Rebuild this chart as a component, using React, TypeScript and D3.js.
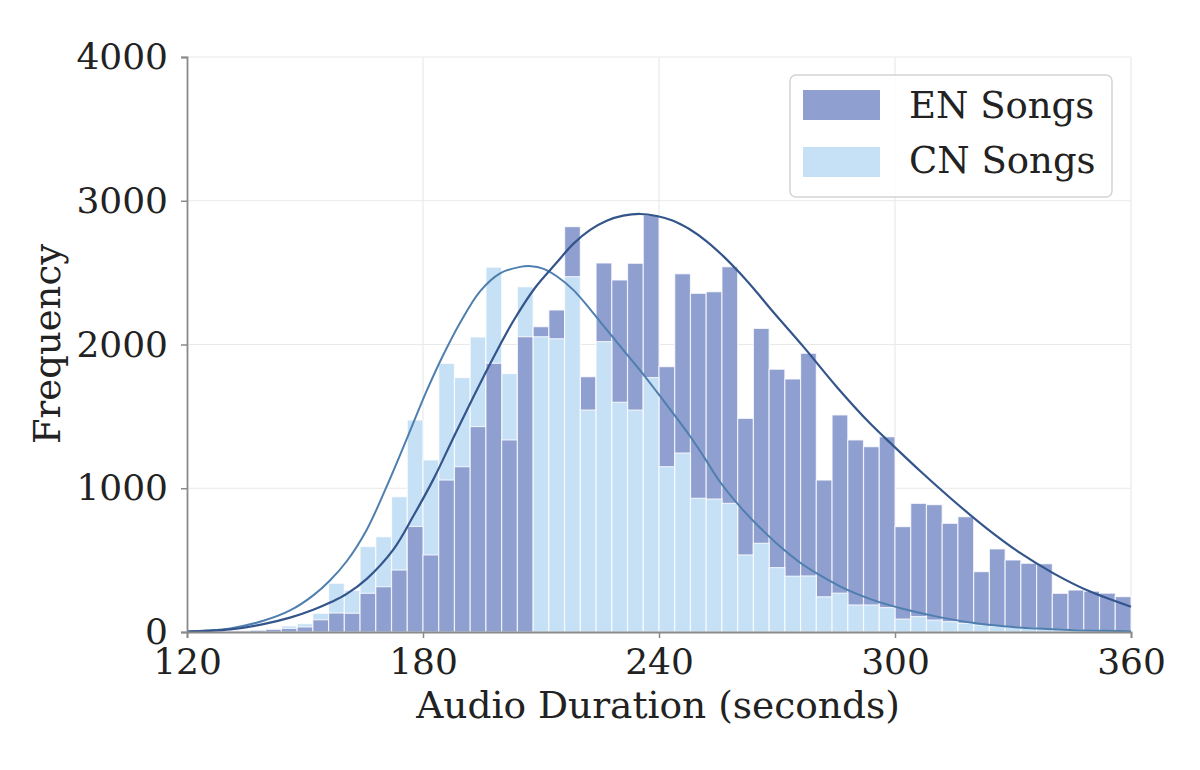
import React, {useRef, useEffect} from 'react';
import * as d3 from 'd3';

// histogram bins: 4-second bins from 120 s to 360 s
const binWidth = 4;
const binStarts = d3.range(120, 360, binWidth);

const enCounts = [
    2, 3, 5, 8, 12, 18, 25, 35, 85, 132,
    130, 269, 315, 431, 734, 536, 1057, 1150, 1429, 1869,
    1336, 2054, 2124, 2240, 2820, 1776, 2567, 2449, 2565, 2901,
    1846, 2492, 2356, 2367, 2541, 1486, 2112, 1828, 1760, 1939,
    1057, 1510, 1336, 1289, 1358, 733, 895, 886, 756, 802,
    420, 578, 501, 478, 475, 269, 292, 284, 270, 246,
];

const cnCounts = [
    3, 5, 8, 10, 15, 25, 42, 58, 130, 339,
    290, 594, 663, 941, 1475, 1197, 1869, 1770, 2052, 2538,
    1798, 2402, 2054, 2040, 2472, 1544, 2020, 1598, 1544, 1770,
    1150, 1245, 930, 925, 895, 536, 617, 448, 388, 390,
    245, 270, 188, 188, 170, 90, 107, 83, 72, 60,
    49, 40, 33, 28, 22, 18, 14, 11, 9, 6,
];

// fitted density curves as [seconds, frequency]
const enCurve: [number, number][] = [
    [120, 3], [125, 8], [131, 18], [139.4, 55], [146.2, 100], [152.1, 155],
    [156.8, 210], [160.6, 265], [165.7, 370], [172.5, 575], [177.5, 805],
    [182.6, 1060], [187.7, 1350], [192.8, 1635], [197.9, 1910], [203, 2165],
    [208.5, 2395], [214, 2570], [218.2, 2700], [222.5, 2797], [226.7, 2861],
    [230.9, 2896], [235.2, 2908], [239.4, 2894], [243.6, 2861], [247.9, 2800],
    [252.1, 2718], [256.4, 2613], [260.6, 2495], [264.8, 2365], [268.6, 2240],
    [276.7, 1985], [285.2, 1705], [293.7, 1450], [299.6, 1295], [306.4, 1120],
    [314.8, 915], [323.3, 721], [331.8, 550], [340.3, 408], [348.7, 292], [360, 176],
];

const cnCurve: [number, number][] = [
    [120, 4], [125, 10], [131, 25], [139.4, 78], [146.2, 150], [152.1, 255],
    [156.4, 360], [160.6, 492], [165.7, 712], [170.8, 1015], [175.9, 1345],
    [180.9, 1675], [185.2, 1930], [189.4, 2150], [194.5, 2370], [199.6, 2495],
    [204.7, 2540], [207.5, 2545], [210.5, 2528], [214, 2475], [218.2, 2380],
    [222.5, 2245], [226.7, 2103], [230.9, 1962], [235.2, 1820], [239.4, 1672],
    [243.6, 1521], [247.9, 1362], [251.5, 1215], [255.5, 1045], [260.6, 872],
    [265.7, 725], [270.8, 594], [275.9, 482], [280.9, 395], [286, 318],
    [291.1, 257], [296, 208], [302.2, 160], [310.7, 107], [319.2, 66],
    [327.6, 40], [336.1, 24], [344.6, 14], [360, 6],
];

const xTicks = [120, 180, 240, 300, 360];
const yTicks = [0, 1000, 2000, 3000, 4000];
const seriesNames = ['EN Songs', 'CN Songs'];

const W = 1200;
const H = 770;
const FONT = '"DejaVu Serif", serif';

const enBar = '#8e9fd0';
const cnBar = '#c6e0f5';
const enLine = '#34558b';
const cnLine = '#4f7fae';

const App: React.FC = () => {
    const svgRef = useRef<SVGSVGElement>(null);

    useEffect(() => {
        if (!svgRef.current) return;
        const svg = d3.select(svgRef.current);
        svg.selectAll('*').remove();

        const left = 187, right = 1131, top = 57, bottom = 632;
        const x = d3.scaleLinear().domain([120, 360]).range([left, right]);
        const y = d3.scaleLinear().domain([0, 4000]).range([bottom, top]);

        svg.append('rect').attr('width', W).attr('height', H).attr('fill', '#fff');

        // grid
        const grid = svg.append('g').attr('stroke', '#e9e9e9').attr('stroke-width', 1.2);
        xTicks.slice(1).forEach(t => {
            grid.append('line').attr('x1', x(t)).attr('x2', x(t)).attr('y1', top).attr('y2', bottom);
        });
        yTicks.slice(1).forEach(t => {
            grid.append('line').attr('x1', left).attr('x2', right).attr('y1', y(t)).attr('y2', y(t));
        });

        // bars: in each bin the taller one first, the shorter one drawn over it
        const bins = binStarts.map((s, i) => ({s, en: enCounts[i], cn: cnCounts[i]}));
        const tall = bins.map(b => b.en >= b.cn
            ? {s: b.s, v: b.en, c: enBar} : {s: b.s, v: b.cn, c: cnBar});
        const short = bins.map(b => b.en >= b.cn
            ? {s: b.s, v: b.cn, c: cnBar} : {s: b.s, v: b.en, c: enBar});

        [tall, short].forEach(layer => {
            svg.append('g')
                .selectAll('rect')
                .data(layer)
                .enter()
                .append('rect')
                .attr('x', d => x(d.s))
                .attr('width', d => x(d.s + binWidth) - x(d.s))
                .attr('y', d => y(d.v))
                .attr('height', d => y(0) - y(d.v))
                .attr('fill', d => d.c)
                .attr('stroke', '#fff')
                .attr('stroke-opacity', 0.75)
                .attr('stroke-width', 1.2);
        });

        // fitted curves
        const line = d3.line<[number, number]>()
            .x(d => x(d[0]))
            .y(d => y(d[1]))
            .curve(d3.curveCatmullRom.alpha(0.5));

        svg.append('path').datum(cnCurve).attr('d', line)
            .attr('fill', 'none').attr('stroke', cnLine).attr('stroke-width', 2);
        svg.append('path').datum(enCurve).attr('d', line)
            .attr('fill', 'none').attr('stroke', enLine).attr('stroke-width', 2.2);

        // axes
        const yAxis = svg.append('g')
            .attr('transform', `translate(${left},0)`)
            .call(d3.axisLeft(y).tickValues(yTicks).tickFormat(d3.format('d')).tickSize(6).tickPadding(13));
        const xAxis = svg.append('g')
            .attr('transform', `translate(0,${bottom})`)
            .call(d3.axisBottom(x).tickValues(xTicks).tickFormat(d3.format('d')).tickSize(6).tickPadding(10));

        [xAxis, yAxis].forEach(ax => {
            ax.select('.domain').attr('stroke', '#8a8a8a').attr('stroke-width', 1.8);
            ax.selectAll('.tick line').attr('stroke', '#8a8a8a').attr('stroke-width', 1.5);
            ax.selectAll('.tick text')
                .attr('fill', '#222')
                .style('font-family', FONT)
                .style('font-size', '36px');
        });

        svg.append('text')
            .attr('x', 658)
            .attr('y', 718)
            .attr('text-anchor', 'middle')
            .style('font-family', FONT)
            .style('font-size', '37.5px')
            .attr('fill', '#222')
            .text('Audio Duration (seconds)');

        svg.append('text')
            .attr('transform', 'translate(60,344) rotate(-90)')
            .attr('text-anchor', 'middle')
            .style('font-family', FONT)
            .style('font-size', '37px')
            .attr('fill', '#222')
            .text('Frequency');

        // legend
        const legend = svg.append('g').attr('transform', 'translate(790,75)');
        legend.append('rect')
            .attr('width', 322)
            .attr('height', 122)
            .attr('rx', 6)
            .attr('fill', 'rgba(255,255,255,0.85)')
            .attr('stroke', '#d4d4d4')
            .attr('stroke-width', 1.5);

        [enBar, cnBar].forEach((c, i) => {
            legend.append('rect')
                .attr('x', 13)
                .attr('y', 15 + i * 57)
                .attr('width', 77)
                .attr('height', 30)
                .attr('fill', c);
            legend.append('text')
                .attr('x', 119)
                .attr('y', 43 + i * 55)
                .style('font-family', FONT)
                .style('font-size', '37px')
                .attr('fill', '#222')
                .text(seriesNames[i]);
        });
    }, []);

    return (
        <svg
            ref={svgRef}
            width={W}
            height={H}
            style={{position: 'absolute', left: 0, top: 0, display: 'block'}}
        />
    );
};

export default App;
